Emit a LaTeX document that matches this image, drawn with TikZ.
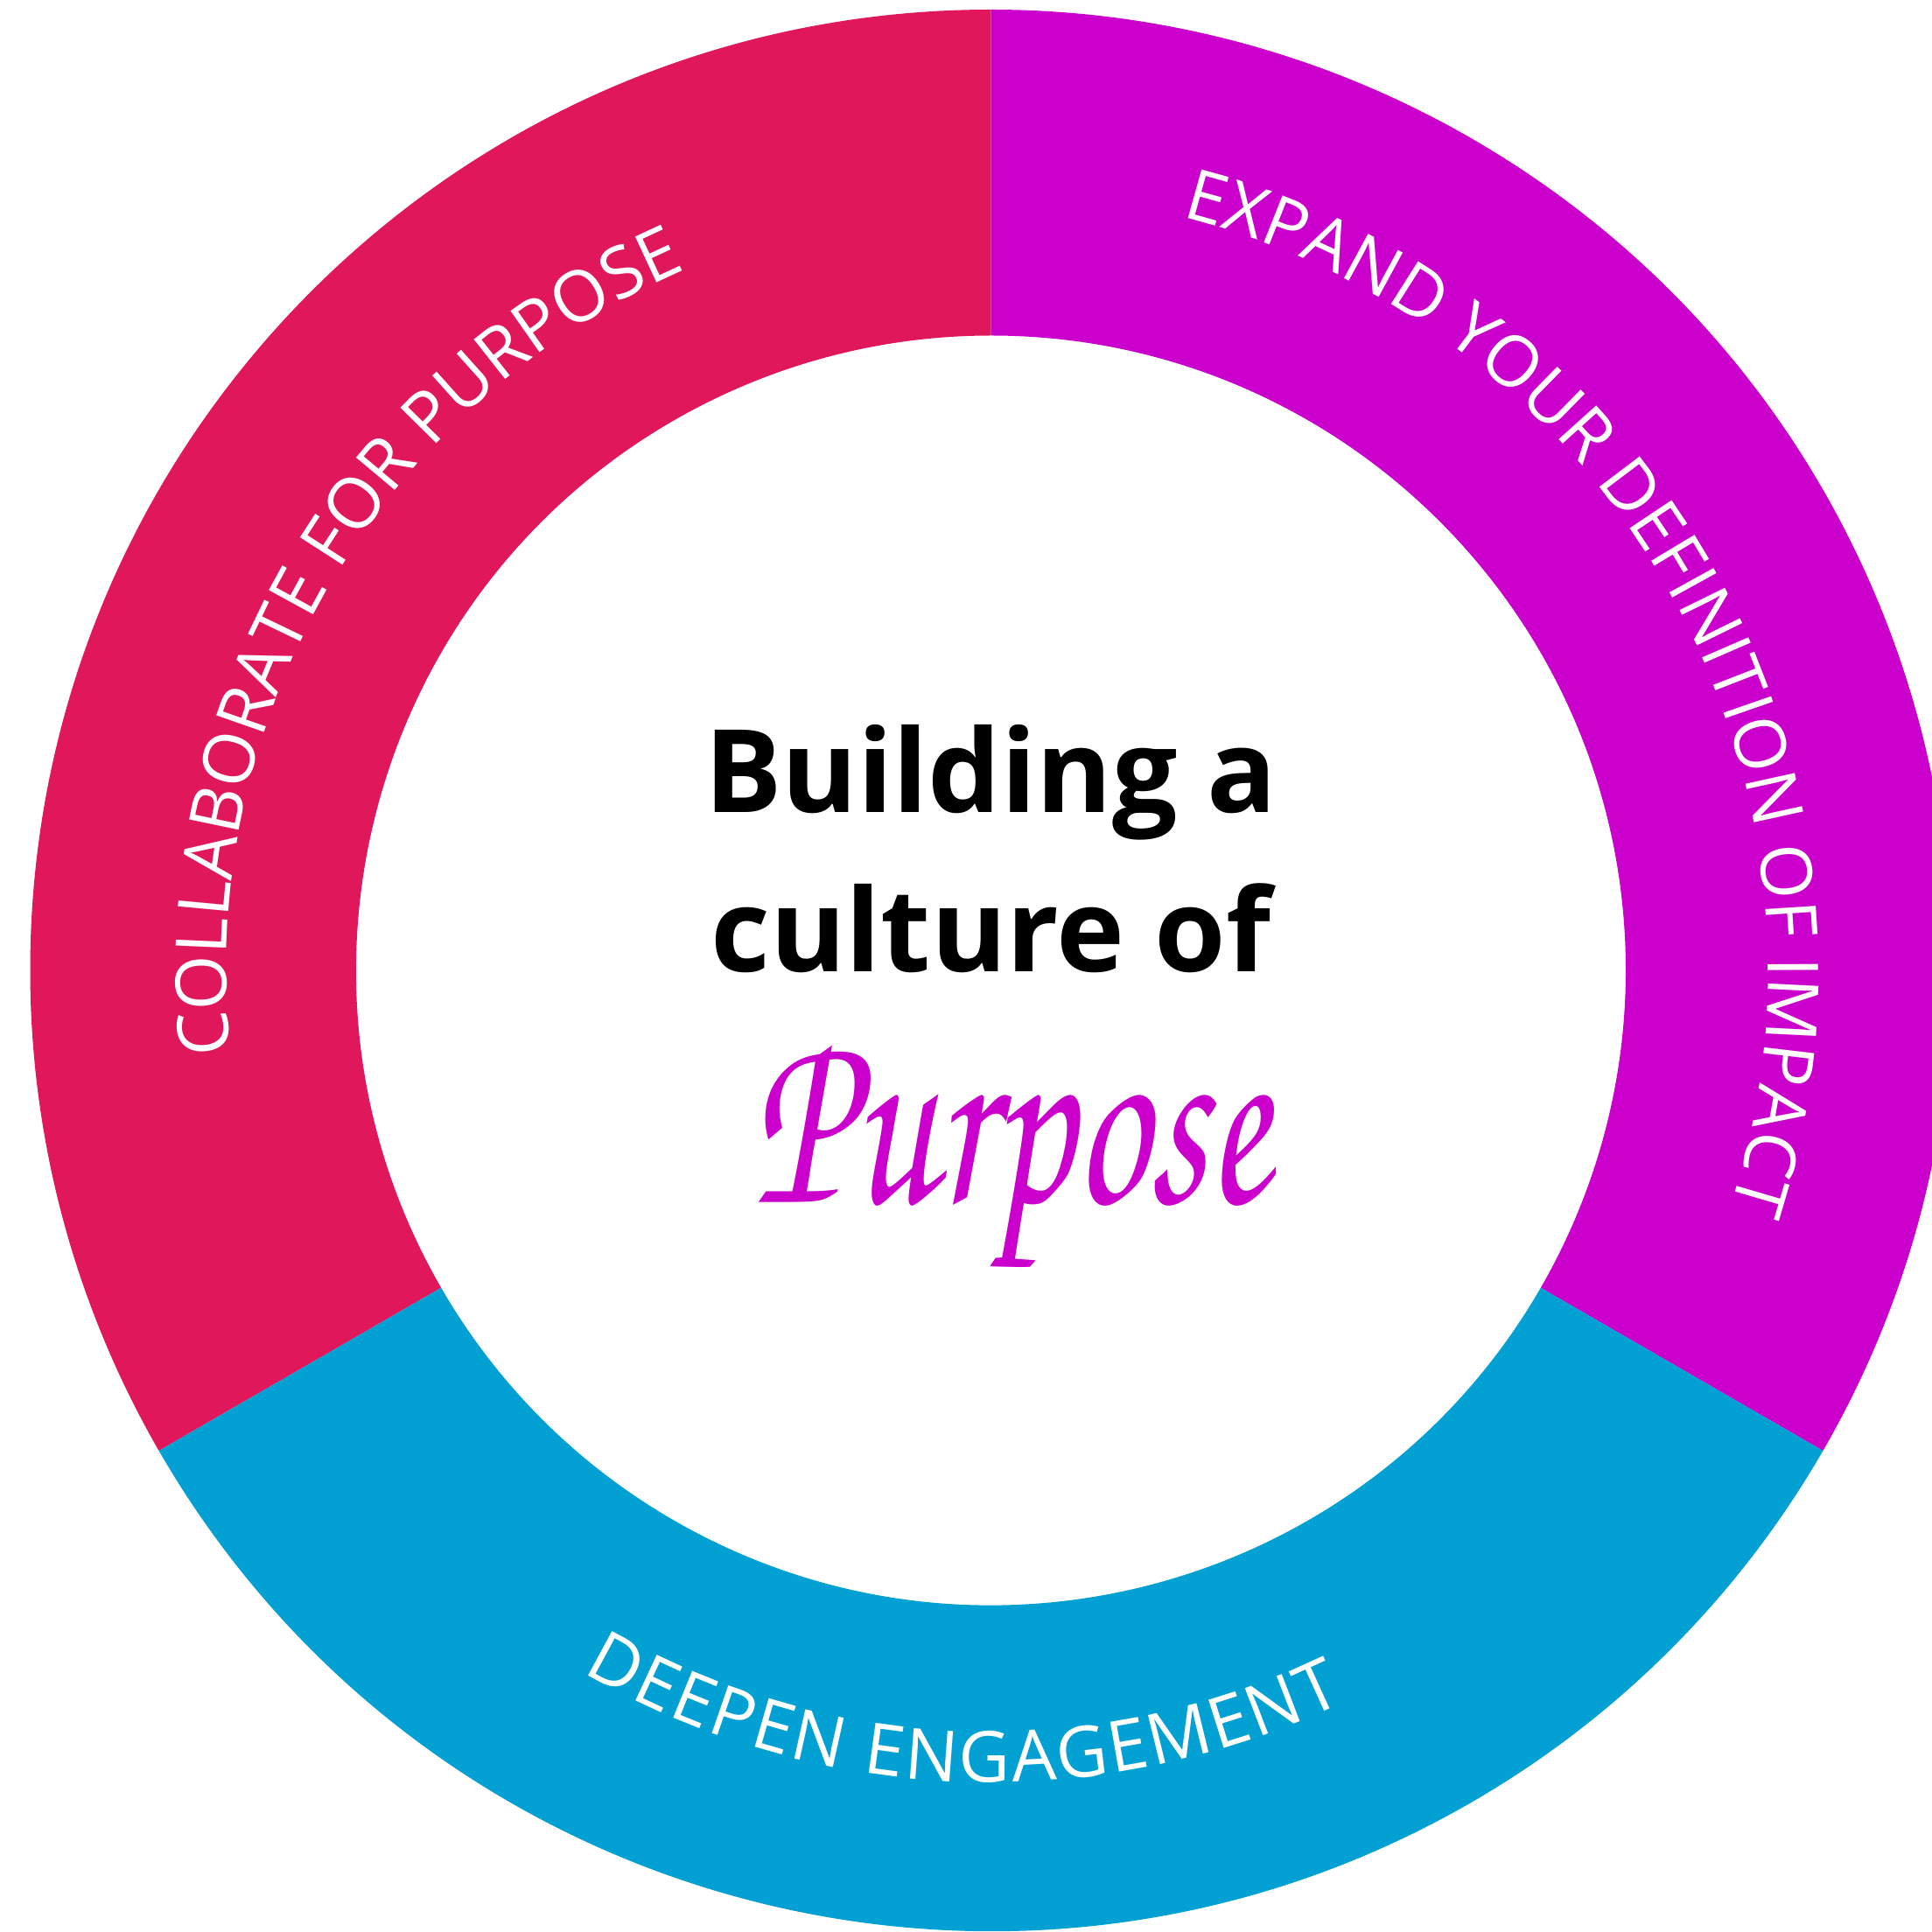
\documentclass[tikz,border=0pt]{standalone}
\usepackage[T1]{fontenc}
\usepackage{fontspec}
\usepackage{graphicx}
\usetikzlibrary{decorations.text}
\newfontfamily\ringfont{Open Sans}
\newcommand\ringtext{\ringfont\fontsize{23}{23}\selectfont}
\newcommand\scriptword{\fontencoding{T1}\fontfamily{pzc}\fontseries{m}\fontshape{it}\selectfont}
\definecolor{collab}{HTML}{E0185B}
\definecolor{expand}{HTML}{CC00CC}
\definecolor{deepen}{HTML}{02A0D3}
\tikzset{
  ringlabel/.style={decorate,decoration={text along path,text align={fit to path},text color=white,text={|\ringtext|#1}}},
  title/.style={font=\ringfont\bfseries\fontsize{37.5}{40}\selectfont,anchor=base,inner sep=0}
}
\begin{document}
\begin{tikzpicture}
      \useasboundingbox (0,0) rectangle (22.08,22.07);
      \clip (0,0) rectangle (22.08,22.07);
      \coordinate (c) at (11.325,10.98);
      \foreach \a/\b/\col in {90/210/collab,-30/90/expand,210/330/deepen}
        \fill[\col] ([shift={(\a:10.98)}]c) arc[start angle=\a,end angle=\b,radius=10.98]
          -- ([shift={(\b:7.255)}]c) arc[start angle=\b,end angle=\a,radius=7.255] -- cycle;
      \path[ringlabel={COLLABORATE FOR PURPOSE}]
        ([shift={(186.3:8.74)}]c) arc[start angle=186.3,end angle=114.8,radius=8.74];
      \path[ringlabel={EXPAND YOUR DEFINITION OF IMPACT}]
        ([shift={(75.8:8.88)}]c) arc[start angle=75.8,end angle=-17.6,radius=8.88];
      \path[ringlabel={DEEPEN ENGAGEMENT}]
        ([shift={(239.8:9.28)}]c) arc[start angle=239.8,end angle=295.8,radius=9.28];
      \node[title] (building) at (11.325,12.78) {Building a};
      \node[title] (culture) at (11.325,10.96) {culture of};
      \node[text=expand,inner sep=0] (purpose) at (11.55,8.78)
        {\resizebox*{5.9cm}{2.75cm}{\scriptword Purpose}};
    \end{tikzpicture}
\end{document}
